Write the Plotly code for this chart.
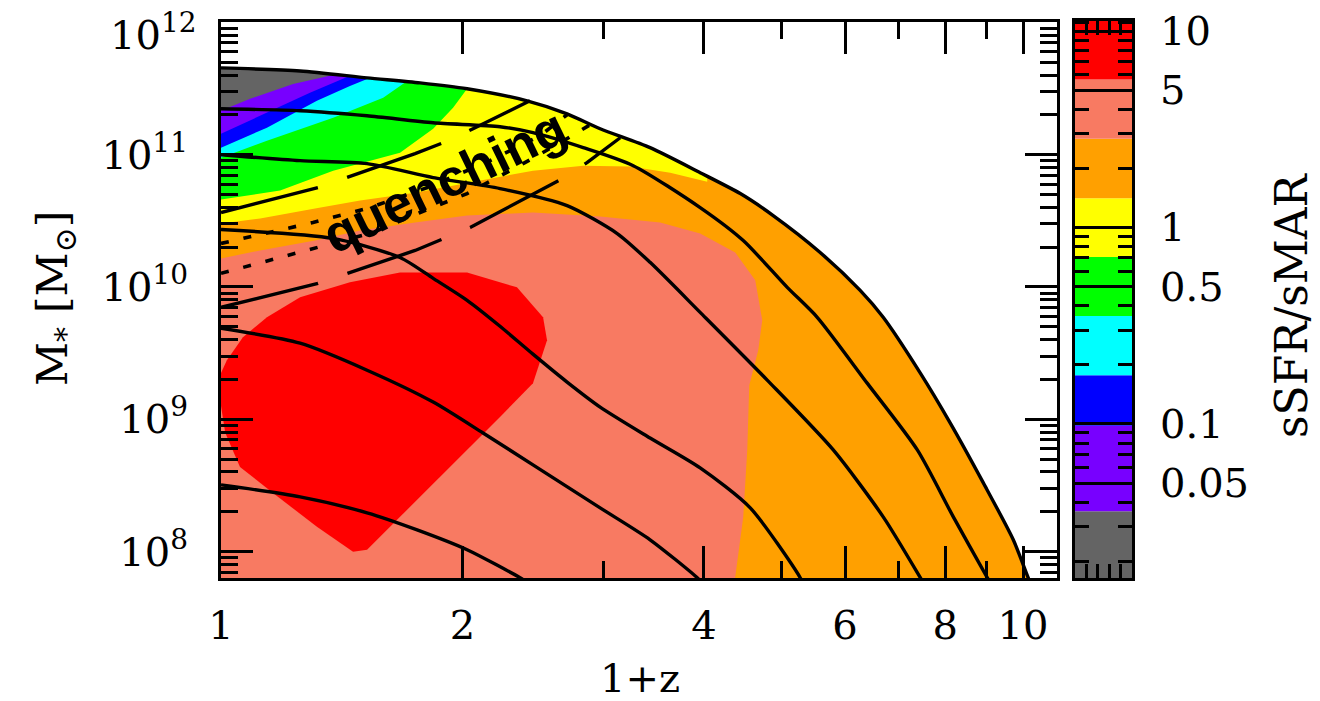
import numpy as np
import plotly.graph_objects as go

# ---------------------------------------------------------------
# Data: x = 1+z, y = log10(M*/Msun)
# ---------------------------------------------------------------

# Solid stellar-mass growth tracks (top one bounds the populated region)
track0_z1 = [1.000, 1.255, 1.521, 1.771, 2.027, 2.408, 2.701, 2.970, 3.428, 3.958, 4.441, 4.881, 5.586, 6.266, 6.694, 7.447, 8.116, 8.924, 9.725, 10.15, 10.30]
track0_logm = [11.656, 11.633, 11.581, 11.543, 11.498, 11.407, 11.309, 11.196, 11.053, 10.864, 10.706, 10.540, 10.261, 9.974, 9.771, 9.349, 8.971, 8.519, 8.089, 7.802, 7.712]

track1_z1 = [1.000, 1.255, 1.521, 1.839, 2.228, 2.449, 2.829, 3.266, 3.958, 4.479, 5.082, 5.539, 6.393, 7.383, 8.187, 9.027, 9.21]
track1_logm = [11.347, 11.332, 11.294, 11.241, 11.211, 11.166, 11.053, 10.917, 10.600, 10.351, 9.997, 9.771, 9.273, 8.768, 8.262, 7.802, 7.712]

track2_z1 = [1.000, 1.255, 1.521, 1.839, 2.228, 2.701, 3.119, 3.428, 3.958, 4.798, 5.800, 6.694, 7.447, 7.595]
track2_logm = [11.000, 10.955, 10.932, 10.827, 10.744, 10.615, 10.404, 10.186, 9.808, 9.296, 8.768, 8.262, 7.802, 7.712]

track3_z1 = [1.000, 1.380, 1.672, 1.839, 2.027, 2.228, 2.449, 2.701, 2.970, 3.428, 3.958, 4.570, 5.275, 5.35]
track3_logm = [10.434, 10.367, 10.223, 10.065, 9.899, 9.703, 9.492, 9.281, 9.092, 8.858, 8.632, 8.330, 7.802, 7.72]

track4_z1 = [1.000, 1.255, 1.521, 1.839, 2.122, 2.449, 2.970, 3.428, 3.925, 4.00]
track4_logm = [9.688, 9.575, 9.371, 9.130, 8.896, 8.655, 8.330, 8.089, 7.802, 7.75]

track5_z1 = [1.000, 1.255, 1.521, 1.756, 2.027, 2.360, 2.42]
track5_logm = [8.504, 8.413, 8.293, 8.164, 8.014, 7.802, 7.76]

# Long-dashed lines
dash1_z1 = [1.000, 1.321, 1.746, 1.892, 2.062, 2.428]
dash1_logm = [10.563, 10.751, 11.008, 11.090, 11.196, 11.407]

dash2_z1 = [1.000, 1.321, 1.746, 1.892, 2.045, 2.663, 2.860, 3.146]
dash2_logm = [9.846, 10.027, 10.276, 10.367, 10.449, 10.819, 10.940, 11.128]

# Dotted lines
dot1_z1 = [1.000, 1.302, 1.534, 1.823, 2.165, 2.499, 2.701]
dot1_logm = [10.329, 10.487, 10.600, 10.759, 10.955, 11.143, 11.302]

dot2_z1 = [1.000, 1.302, 1.547, 1.771, 2.027, 2.380, 2.648, 2.885]
dot2_logm = [10.103, 10.291, 10.412, 10.563, 10.706, 10.932, 11.090, 11.226]

# sSFR/sMAR level boundaries and colours (low -> high)
level_edges = [0.0163, 0.036, 0.098, 0.177, 0.354, 0.707, 1.41, 2.83, 5.66, 11.25]
level_colors = ["#646464", "#7800ff", "#0000ff", "#00ffff", "#00ff00",
                "#ffff00", "#ffa000", "#f87a62", "#ff0000"]

# Lower boundaries of the low-sSFR regions (left edge -> top track)
gray_z1 = [1.000, 1.087, 1.230, 1.380]
gray_logm = [11.332, 11.422, 11.535, 11.603]

purple_z1 = [1.000, 1.141, 1.291, 1.436]
purple_logm = [11.158, 11.317, 11.468, 11.588]

blue_z1 = [1.000, 1.141, 1.317, 1.448, 1.543]
blue_logm = [11.053, 11.204, 11.407, 11.520, 11.588]

cyan_z1 = [1.000, 1.141, 1.380, 1.593, 1.721]
cyan_logm = [10.977, 11.106, 11.279, 11.430, 11.573]

green_z1 = [1.000, 1.185, 1.380, 1.672, 1.839, 1.947, 2.027]
green_logm = [10.661, 10.729, 10.879, 11.015, 11.196, 11.354, 11.498]

yellow_z1 = [1.000, 1.119, 1.310, 1.491, 1.746, 2.045, 2.449, 2.829, 3.238, 3.632, 4.039]
yellow_logm = [10.480, 10.517, 10.593, 10.653, 10.713, 10.789, 10.879, 10.917, 10.910, 10.864, 10.796]

# Upper/right boundary of the 2.8-5.7 region (left edge -> bottom)
salmon_z1 = [1.000, 1.119, 1.310, 1.491, 1.746, 2.027, 2.449, 2.970, 3.528, 3.958, 4.377, 4.636, 4.730, 4.676, 4.557, 4.531, 4.479, 4.377, 4.34]
salmon_logm = [10.216, 10.276, 10.351, 10.427, 10.487, 10.540, 10.563, 10.532, 10.487, 10.404, 10.261, 10.050, 9.748, 9.522, 9.258, 8.768, 8.262, 7.802, 7.64]

# Closed outline of the highest-sSFR region
red_z1 = [1.255, 1.448, 1.672, 2.027, 2.339, 2.521, 2.550, 2.449, 2.228, 2.027, 1.839, 1.672, 1.521, 1.461, 1.317, 1.161, 1.056, 1.012, 1.000, 1.000, 1.017, 1.065, 1.141]
red_logm = [9.922, 10.035, 10.110, 10.110, 9.997, 9.771, 9.597, 9.273, 9.017, 8.768, 8.519, 8.262, 8.014, 7.998, 8.187, 8.443, 8.640, 8.900, 9.100, 9.350, 9.446, 9.620, 9.771]

# Label position
quench_z1 = 1.90
quench_logm = 10.80

# ---------------------------------------------------------------
Y_TOP = 12.3
Y_BOT = 7.6
X_LEFT = 0.95
X_RIGHT = 12.0

SERIF = "DejaVu Serif"
FS = 40


def lin(vals):
    return [10 ** v for v in vals]


fig = go.Figure()


def add_fill(xs, logys, color):
    fig.add_trace(go.Scatter(x=xs, y=lin(logys), mode="lines", fill="toself",
                             fillcolor=color, line=dict(width=0, color=color),
                             hoverinfo="skip", showlegend=False))


def add_upper_region(z1, logm, color):
    xs = list(z1) + [z1[-1], z1[0]]
    ys = list(logm) + [Y_TOP, Y_TOP]
    add_fill(xs, ys, color)


c_gray, c_purple, c_blue, c_cyan, c_green, c_yellow, c_orange, c_salmon, c_red = level_colors

# base colour below the top track
add_fill([X_LEFT, X_RIGHT, X_RIGHT, X_LEFT], [Y_BOT, Y_BOT, Y_TOP, Y_TOP], c_orange)
# salmon region
add_fill(list(salmon_z1) + [X_LEFT, X_LEFT], list(salmon_logm) + [Y_BOT, salmon_logm[0]], c_salmon)
# red blob
add_fill(list(red_z1) + [red_z1[0]], list(red_logm) + [red_logm[0]], c_red)
# nested low-sSFR regions in the upper left
add_upper_region(yellow_z1, yellow_logm, c_yellow)
add_upper_region(green_z1, green_logm, c_green)
add_upper_region(cyan_z1, cyan_logm, c_cyan)
add_upper_region(blue_z1, blue_logm, c_blue)
add_upper_region(purple_z1, purple_logm, c_purple)
add_upper_region(gray_z1, gray_logm, c_gray)

# white mask above the top track
mask_x = list(track0_z1) + [X_RIGHT, X_RIGHT, X_LEFT, X_LEFT]
mask_y = list(track0_logm) + [Y_BOT, Y_TOP, Y_TOP, track0_logm[0]]
add_fill(mask_x, mask_y, "white")

# dotted and dashed lines
for zz, mm in [(dot1_z1, dot1_logm), (dot2_z1, dot2_logm)]:
    fig.add_trace(go.Scatter(x=zz, y=lin(mm), mode="lines",
                             line=dict(color="black", width=3.6, dash="8px,15px"),
                             hoverinfo="skip", showlegend=False))
for zz, mm in [(dash1_z1, dash1_logm), (dash2_z1, dash2_logm)]:
    fig.add_trace(go.Scatter(x=zz, y=lin(mm), mode="lines",
                             line=dict(color="black", width=3.4, dash="100px,31px"),
                             hoverinfo="skip", showlegend=False))

# solid tracks
for zz, mm in [(track5_z1, track5_logm), (track4_z1, track4_logm),
               (track3_z1, track3_logm), (track2_z1, track2_logm),
               (track1_z1, track1_logm), (track0_z1, track0_logm)]:
    fig.add_trace(go.Scatter(x=zz, y=lin(mm), mode="lines",
                             line=dict(color="black", width=3.4, shape="spline", smoothing=0.7),
                             hoverinfo="skip", showlegend=False))

# colour bar bands
for lo, hi, col in zip(level_edges[:-1], level_edges[1:], level_colors):
    fig.add_trace(go.Scatter(x=[0, 1, 1, 0, 0], y=[lo, lo, hi, hi, lo], mode="lines",
                             fill="toself", fillcolor=col, line=dict(width=0, color=col),
                             xaxis="x2", yaxis="y2", hoverinfo="skip", showlegend=False))

# ---------------------------------------------------------------
# Axes
# ---------------------------------------------------------------
x_major = [1, 2, 4, 6, 8, 10]
x_minor = [3, 5, 7, 9]
y_major = [1e8, 1e9, 1e10, 1e11, 1e12]
# the top label is drawn separately, nudged down so it stays on the page
y_major_text = ["10<sup>8</sup>", "10<sup>9</sup>", "10<sup>10</sup>", "10<sup>11</sup>", ""]
y_top_label = "10<sup>12</sup>"
y_minor = [k * 10.0 ** e for e in range(7, 12) for k in range(2, 10)]

cb_major = [0.05, 0.1, 0.5, 1, 5, 10]
cb_major_text = ["0.05", "0.1", "0.5", "1", "5", "10"]
cb_minor = [k * 10.0 ** e for e in range(-2, 2) for k in range(2, 10) if k != 5] + [11]

dom_x = [221 / 1320, 1057 / 1320]
dom_y = [(701 - 578) / 701, (701 - 22) / 701]
dom_cb_x = [1075 / 1320, 1132 / 1320]
dom_cb_y = [(701 - 578) / 701, (701 - 21) / 701]

axis_common = dict(showline=True, linecolor="black", linewidth=3, mirror="ticks",
                   ticks="inside", tickcolor="black", tickwidth=2.6,
                   showgrid=False, zeroline=False, automargin=False,
                   ticklabeloverflow="allow",
                   tickfont=dict(family=SERIF, size=FS, color="black"))

fig.update_layout(
    width=1320, height=701,
    margin=dict(l=0, r=0, t=0, b=0, autoexpand=False),
    paper_bgcolor="white", plot_bgcolor="white",
    showlegend=False,
    xaxis=dict(type="log", domain=dom_x, range=[0, 1.0424],
               tickmode="array", tickvals=x_major, ticktext=[str(v) for v in x_major],
               ticklen=32, ticklabelstandoff=10,
               minor=dict(tickmode="array", tickvals=x_minor, ticklen=17,
                          ticks="inside", tickcolor="black", tickwidth=2.6),
               **axis_common),
    yaxis=dict(type="log", domain=dom_y, range=[7.80, 12.003],
               tickmode="array", tickvals=y_major, ticktext=y_major_text,
               ticklen=32, ticklabelstandoff=22,
               minor=dict(tickmode="array", tickvals=y_minor, ticklen=17,
                          ticks="inside", tickcolor="black", tickwidth=2.6),
               **axis_common),
    xaxis2=dict(domain=dom_cb_x, range=[0, 1], anchor="y2",
                tickmode="array", tickvals=[0.2, 0.4, 0.6, 0.8], ticklen=14,
                showticklabels=False, **axis_common),
    yaxis2=dict(type="log", domain=dom_cb_y, range=[-1.784, 1.051], anchor="x2",
                side="right",
                tickmode="array", tickvals=cb_major, ticktext=cb_major_text,
                ticklen=30, ticklabelstandoff=17,
                minor=dict(tickmode="array", tickvals=cb_minor, ticklen=14,
                           ticks="inside", tickcolor="black", tickwidth=2.6),
                **axis_common),
)

# top y tick label
fig.add_annotation(text=y_top_label, xref="paper", yref="paper",
                   x=199 / 1320, y=(701 - 32) / 701,
                   showarrow=False, xanchor="right", yanchor="middle",
                   font=dict(family=SERIF, size=FS, color="black"))

# Axis titles and the in-plot label
fig.add_annotation(text="1+z", xref="paper", yref="paper", x=640 / 1320, y=(701 - 678) / 701,
                   showarrow=False, xanchor="center", yanchor="middle",
                   font=dict(family=SERIF, size=FS, color="black"))
fig.add_annotation(text="M<sub>*</sub> [M<sub>⊙</sub>]", xref="paper", yref="paper",
                   x=55 / 1320, y=(701 - 298) / 701, textangle=-90,
                   showarrow=False, xanchor="center", yanchor="middle",
                   font=dict(family=SERIF, size=43, color="black"))
fig.add_annotation(text="sSFR/sMAR", xref="paper", yref="paper",
                   x=1291 / 1320, y=(701 - 305) / 701, textangle=-90,
                   showarrow=False, xanchor="center", yanchor="middle",
                   font=dict(family=SERIF, size=44, color="black"))
fig.add_annotation(text="<b>quenching</b>", xref="x", yref="y",
                   x=np.log10(quench_z1), y=quench_logm, textangle=-26,
                   showarrow=False, xanchor="center", yanchor="middle",
                   font=dict(family="Liberation Sans", size=52, color="black"))

fig.write_html("out.html")
